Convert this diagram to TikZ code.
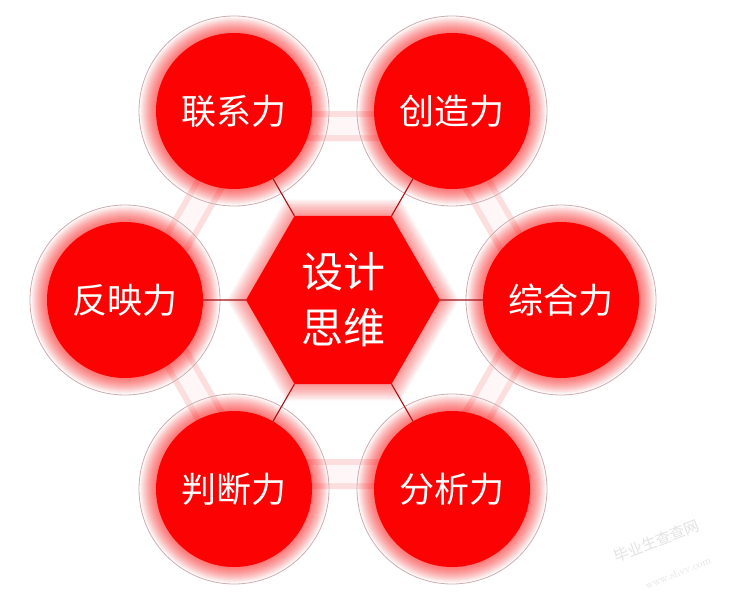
\documentclass[tikz,border=0pt]{standalone}
\usepackage{fontspec}
\newfontfamily\cjk{Noto Sans CJK SC}
\usetikzlibrary{shapes.geometric}
\definecolor{mainred}{RGB}{252,2,2}
\definecolor{ringc}{RGB}{208,172,176}
\definecolor{linkc}{RGB}{165,18,22}
\definecolor{bandc}{RGB}{252,222,222}
\tikzset{
  disk/.style={circle, fill=mainred, minimum size=156pt, inner sep=0pt, text=white,
    font=\cjk\fontsize{35}{40}\selectfont},
  hexnode/.style={regular polygon, regular polygon sides=6, minimum size=194pt, fill=mainred,
    inner sep=0pt, text=white, align=center, font=\cjk\fontsize{42}{56}\selectfont},
  link/.style={draw=linkc, line width=1.1pt},
  ring/.style={draw=ringc, line width=0.8pt},
  glow/.style={fill=mainred, opacity=0.045},
  wmark/.style={text=gray!22, inner sep=0pt}
}
\begin{document}
\begin{tikzpicture}[x=1pt,y=-1pt]
\fill[white] (0,0) rectangle (735,599);
\useasboundingbox (0,0) rectangle (735,599);
% outer band
\draw[bandc, line width=30pt, line join=miter] (544,300)--(443.5,126)--(243.5,126)--(143,300)--(243.5,474)--(443.5,474)--cycle;
\draw[red!3, line width=18pt, line join=miter] (544,300)--(443.5,126)--(243.5,126)--(143,300)--(243.5,474)--(443.5,474)--cycle;
% circle glows and rings
\foreach \x/\y in {234/111, 452/111, 561/300, 452/489, 234/489, 125/300}{
  \foreach \i in {1,...,16}{\fill[glow] (\x,\y) circle ({78+\i*1.0 pt});}
}
\foreach \x/\y in {234/111, 452/111, 561/300, 452/489, 234/489, 125/300}{
  \draw[ring] (\x,\y) circle (95pt);
}
% hexagon glow
\foreach \w in {3,6,...,33}{
  \draw[mainred, opacity=0.045, line width=\w pt, line join=miter] (440,300)--(391.5,216)--(294.5,216)--(246,300)--(294.5,384)--(391.5,384)--cycle;
}
% nodes
\node[hexnode] (hex) at (343,300) {设计\\思维};
\node[disk] (lx) at (234,111) {联系力};
\node[disk] (cz) at (452,111) {创造力};
\node[disk] (zh) at (561,300) {综合力};
\node[disk] (fx) at (452,489) {分析力};
\node[disk] (pd) at (234,489) {判断力};
\node[disk] (fy) at (125,300) {反映力};
% connectors
\draw[link] (hex.120) -- (lx);
\draw[link] (hex.60) -- (cz);
\draw[link] (hex.0) -- (zh);
\draw[link] (hex.300) -- (fx);
\draw[link] (hex.240) -- (pd);
\draw[link] (hex.180) -- (fy);
% watermark
\node[wmark, rotate=21, font=\cjk\fontsize{15}{15}\selectfont] (wm1) at (656,541) {毕业生查查网};
\node[wmark, rotate=22, font=\fontsize{11}{11}\selectfont] (wm2) at (678,573) {www.sbvv.com};
\end{tikzpicture}
\end{document}
